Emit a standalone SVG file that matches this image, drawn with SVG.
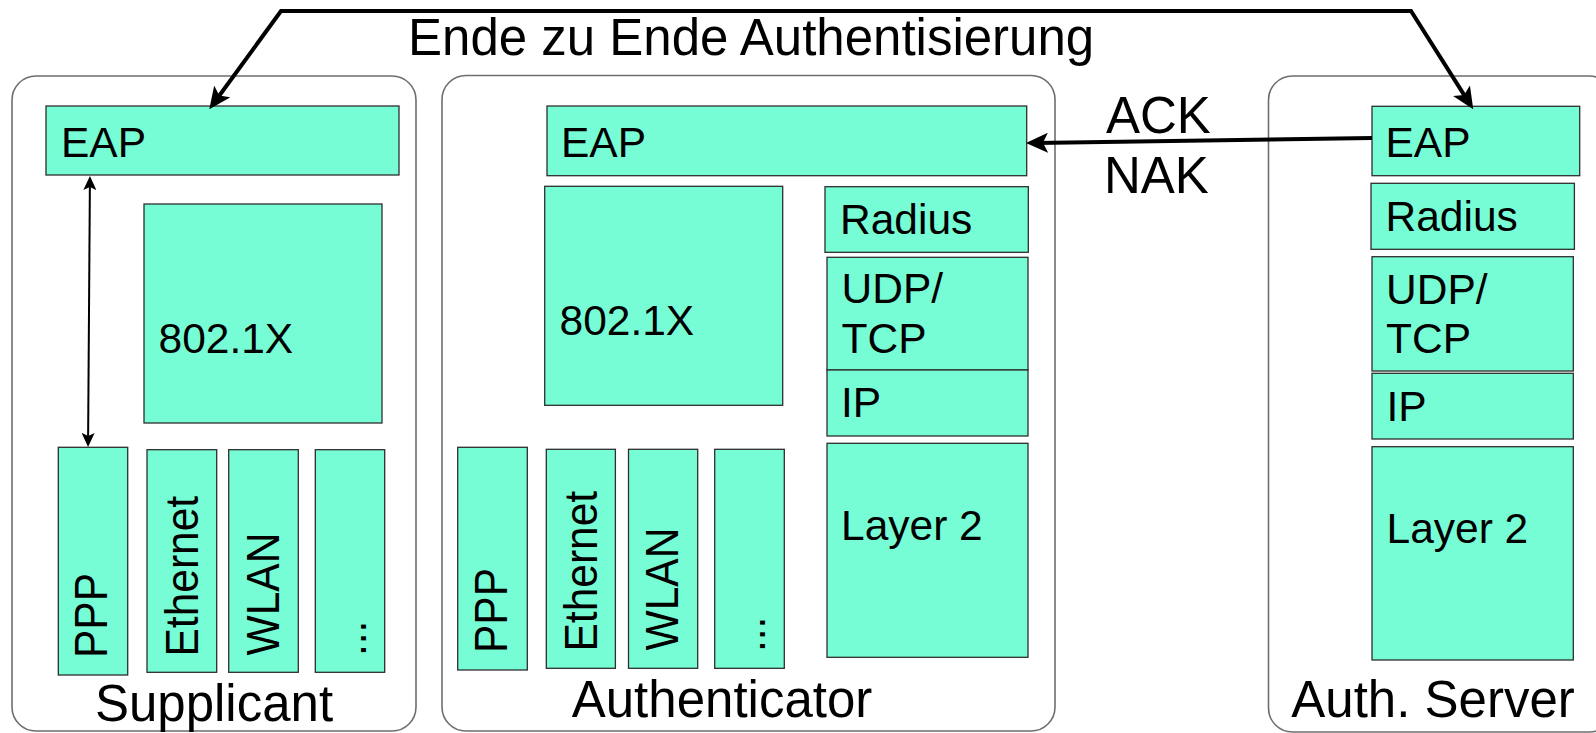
<svg xmlns="http://www.w3.org/2000/svg" width="1596" height="733" viewBox="0 0 1596 733">
<style>
.cont{fill:#fff;stroke:#6e6e6e;stroke-width:1.6}
.box{fill:#77FDD5;stroke:#2e2e2e;stroke-width:1.3}
.lbl{font-family:"Liberation Sans",Arial,sans-serif;font-size:42.5px;fill:#000}
.big{font-family:"Liberation Sans",Arial,sans-serif;font-size:51px;fill:#000}
.thick{fill:none;stroke:#000;stroke-width:4;stroke-linejoin:miter}
.thin{fill:none;stroke:#000;stroke-width:2}
</style>
<defs>
<marker id="ah" markerUnits="userSpaceOnUse" viewBox="0 0 22 20" markerWidth="22" markerHeight="20" refX="12" refY="10" orient="auto-start-reverse">
<path d="M0,0 L22,10 L0,20 L5,10 Z" fill="#000"/>
</marker>
<marker id="ahs" markerUnits="userSpaceOnUse" viewBox="0 0 14 13" markerWidth="14" markerHeight="13" refX="7" refY="6.5" orient="auto-start-reverse">
<path d="M0,0 L14,6.5 L0,13 L3,6.5 Z" fill="#000"/>
</marker>
</defs>
<rect width="1596" height="733" fill="#fff"/>

<g id="supplicant">
<rect class="cont" x="12" y="76" width="404" height="655" rx="24"/>
<text class="big" x="214" y="721" text-anchor="middle">Supplicant</text>
</g>
<g id="sup-eap"><rect class="box" x="46" y="106" width="353" height="69"/><text class="lbl" x="61" y="157">EAP</text></g>
<g id="sup-8021x"><rect class="box" x="144" y="204" width="238" height="219"/><text class="lbl" x="158.5" y="353">802.1X</text></g>
<g id="sup-ppp"><rect class="box" x="58.3" y="447.3" width="69.4" height="227.7"/><text class="lbl" transform="translate(107.3,658) rotate(-90) scale(1,1.07)">PPP</text></g>
<g id="sup-eth"><rect class="box" x="147" y="449.7" width="69.7" height="222.6"/><text class="lbl" transform="translate(198.3,656.5) rotate(-90) scale(1,1.07)">Ethernet</text></g>
<g id="sup-wlan"><rect class="box" x="228.7" y="449.7" width="69.6" height="222.6"/><text class="lbl" transform="translate(279.3,655.4) rotate(-90) scale(1,1.07)">WLAN</text></g>
<g id="sup-more"><rect class="box" x="315.3" y="449.7" width="69.4" height="222.6"/><text class="lbl" transform="translate(365.5,656) rotate(-90) scale(1,1.07)">...</text></g>

<g id="authenticator">
<rect class="cont" x="442" y="75.5" width="613" height="655.5" rx="24"/>
<text class="big" x="722" y="717" text-anchor="middle">Authenticator</text>
</g>
<g id="auth-eap"><rect class="box" x="547" y="106" width="479.7" height="69.7"/><text class="lbl" x="561" y="157">EAP</text></g>
<g id="auth-8021x"><rect class="box" x="544.7" y="186.3" width="238" height="219"/><text class="lbl" x="559.5" y="335">802.1X</text></g>
<g id="auth-radius"><rect class="box" x="825" y="186.7" width="203.3" height="65.6"/><text class="lbl" x="840" y="234.3">Radius</text></g>
<g id="auth-udp"><rect class="box" x="827" y="257.3" width="201" height="112.7"/><text class="lbl" x="841.5" y="303.3">UDP/</text><text class="lbl" x="841.5" y="352.7">TCP</text></g>
<g id="auth-ip"><rect class="box" x="827" y="370" width="201" height="66"/><text class="lbl" x="841" y="416.7">IP</text></g>
<g id="auth-l2"><rect class="box" x="827" y="443.3" width="201" height="214"/><text class="lbl" x="841" y="540">Layer 2</text></g>
<g id="auth-ppp"><rect class="box" x="457.7" y="447.3" width="69.6" height="222.7"/><text class="lbl" transform="translate(507,653) rotate(-90) scale(1,1.07)">PPP</text></g>
<g id="auth-eth"><rect class="box" x="546.3" y="449.3" width="69.1" height="219"/><text class="lbl" transform="translate(596.9,651.5) rotate(-90) scale(1,1.07)">Ethernet</text></g>
<g id="auth-wlan"><rect class="box" x="628.5" y="449.3" width="69.2" height="219"/><text class="lbl" transform="translate(678.3,650.4) rotate(-90) scale(1,1.07)">WLAN</text></g>
<g id="auth-more"><rect class="box" x="714.7" y="449.3" width="69.6" height="219"/><text class="lbl" transform="translate(764.5,652) rotate(-90) scale(1,1.07)">...</text></g>

<g id="authserver">
<rect class="cont" x="1268.5" y="76" width="345" height="656" rx="24"/>
<text class="big" x="1433" y="717" text-anchor="middle">Auth. Server</text>
</g>
<g id="as-eap"><rect class="box" x="1372" y="106.3" width="207.7" height="69.4"/><text class="lbl" x="1385.5" y="157">EAP</text></g>
<g id="as-radius"><rect class="box" x="1371" y="183.3" width="203.4" height="66"/><text class="lbl" x="1385.5" y="230.7">Radius</text></g>
<g id="as-udp"><rect class="box" x="1372" y="256.7" width="201.3" height="114.3"/><text class="lbl" x="1386" y="304">UDP/</text><text class="lbl" x="1386" y="353.3">TCP</text></g>
<g id="as-ip"><rect class="box" x="1372" y="373.3" width="201.3" height="65.7"/><text class="lbl" x="1386.5" y="420.7">IP</text></g>
<g id="as-l2"><rect class="box" x="1372" y="446.7" width="201.3" height="213.3"/><text class="lbl" x="1386.5" y="543.3">Layer 2</text></g>

<g id="connectors">
<path class="thick" d="M215.2,101.2 L281,11 L1411,11 L1467.9,100.9" marker-start="url(#ah)" marker-end="url(#ah)"/>
<path class="thick" d="M1372,138 L1036,142.9" marker-end="url(#ah)"/>
<path class="thin" d="M89.9,183 L88.1,440" marker-start="url(#ahs)" marker-end="url(#ahs)"/>
<text class="big" x="408" y="55">Ende zu Ende Authentisierung</text>
<text class="big" x="1106" y="132.7">ACK</text>
<text class="big" x="1104" y="192.7">NAK</text>
</g>
</svg>
